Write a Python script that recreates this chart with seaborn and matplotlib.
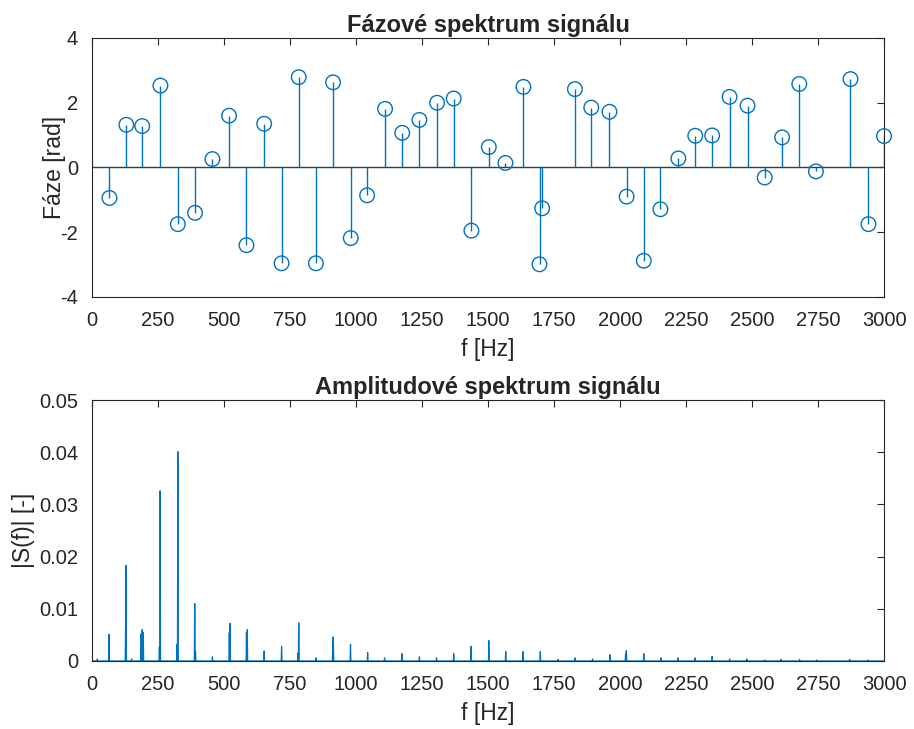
import numpy as np
import pandas as pd
import matplotlib
matplotlib.use("Agg")
import matplotlib.pyplot as plt
import seaborn as sns

# ---- Phase spectrum (stems) ----
phase_freq = [66, 130, 190, 259, 325, 390, 456, 519, 585, 652, 718, 783, 848, 913,
              980, 1042, 1110, 1175, 1240, 1307, 1370, 1437, 1503, 1566, 1634, 1695,
              1705, 1829, 1891, 1960, 2025, 2090, 2153, 2221, 2285, 2349, 2415, 2483,
              2548, 2614, 2679, 2742, 2873, 2941, 3000]
phase_val = [-0.94, 1.32, 1.28, 2.53, -1.75, -1.40, 0.26, 1.60, -2.40, 1.35, -2.96,
             2.79, -2.96, 2.63, -2.18, -0.86, 1.81, 1.07, 1.47, 2.00, 2.13, -1.95,
             0.63, 0.14, 2.49, -2.99, -1.26, 2.42, 1.85, 1.72, -0.90, -2.88, -1.29,
             0.28, 0.98, 0.99, 2.18, 1.91, -0.31, 0.93, 2.58, -0.12, 2.73, -1.75, 0.97]

# ---- Amplitude spectrum (peaks) ----
amp_freq = [20, 64, 127, 129, 150, 186, 190, 194, 255, 258, 322, 325, 389, 392, 456,
            520, 523, 585, 588, 652, 718, 780, 783, 848, 912, 914, 979, 1044, 1108,
            1174, 1240, 1305, 1370, 1436, 1503, 1567, 1633, 1698, 1765, 1830, 1896,
            1962, 2021, 2024, 2090, 2155, 2220, 2284, 2349, 2415, 2480, 2548, 2610,
            2680, 2745, 2870, 2940]
amp_val = [0.0004, 0.0051, 0.0062, 0.0183, 0.0004, 0.0052, 0.0060, 0.0055, 0.0027,
           0.0326, 0.0032, 0.0401, 0.0110, 0.0019, 0.0008, 0.0054, 0.0072, 0.0054,
           0.0060, 0.0019, 0.0028, 0.0015, 0.0073, 0.0006, 0.0046, 0.0036, 0.0032,
           0.0016, 0.0006, 0.0014, 0.0008, 0.0006, 0.0014, 0.0028, 0.0039, 0.0018,
           0.0018, 0.0018, 0.0003, 0.0006, 0.0004, 0.0012, 0.0014, 0.0020, 0.0014,
           0.0006, 0.0006, 0.0006, 0.0009, 0.0004, 0.0004, 0.0002, 0.0003, 0.0003,
           0.0002, 0.0003, 0.0002]

x_ticks = list(range(0, 3001, 250))

C = "#0072BD"
AX = "#262626"

sns.set_theme(style="white")
plt.rcParams["font.family"] = ["Liberation Sans", "DejaVu Sans"]
plt.rcParams["axes.edgecolor"] = AX
plt.rcParams["axes.linewidth"] = 0.8
plt.rcParams["axes.unicode_minus"] = False

fig = plt.figure(figsize=(9.14, 7.29), dpi=100)
ax1 = fig.add_axes([0.1007, 0.5926, 0.8665, 0.3553])
ax2 = fig.add_axes([0.1007, 0.0933, 0.8665, 0.3580])

# Top: stem plot
ax1.axhline(0, color="#3c3c3c", lw=1.0, zorder=1)
ax1.vlines(phase_freq, 0, phase_val, color=C, lw=1.0, zorder=2)
dfp = pd.DataFrame({"f": phase_freq, "phi": phase_val})
sns.scatterplot(data=dfp, x="f", y="phi", ax=ax1, s=110, marker="o",
                linewidth=1.0, zorder=3, clip_on=False)
coll = ax1.collections[-1]
coll.set_facecolor("none")
coll.set_edgecolor(C)
ax1.set_xlim(0, 3000)
ax1.set_ylim(-4, 4)
ax1.set_yticks([-4, -2, 0, 2, 4])
ax1.set_xticks(x_ticks)
ax1.set_title("Fázové spektrum signálu", fontsize=17, fontweight="bold", pad=4.5)
ax1.set_xlabel("f [Hz]", fontsize=16.5, color=AX, labelpad=6)
ax1.set_ylabel("Fáze [rad]", fontsize=16.5, color=AX, labelpad=-4)

# Bottom: amplitude spectrum line
xs, ys = [0.0], [0.0]
w = 1.5
for f, h in zip(amp_freq, amp_val):
    xs += [f - w, f, f + w]
    ys += [0.0, h, 0.0]
xs.append(3000.0)
ys.append(0.0)
dfa = pd.DataFrame({"f": xs, "a": ys})
sns.lineplot(data=dfa, x="f", y="a", ax=ax2, color=C, lw=0.9,
             estimator=None, sort=False)
ax2.set_xlim(0, 3000)
ax2.set_ylim(0, 0.05)
ax2.set_yticks([0, 0.01, 0.02, 0.03, 0.04, 0.05])
ax2.set_yticklabels(["0", "0.01", "0.02", "0.03", "0.04", "0.05"])
ax2.set_xticks(x_ticks)
ax2.set_title("Amplitudové spektrum signálu", fontsize=17, fontweight="bold", pad=4.5)
ax2.set_xlabel("f [Hz]", fontsize=16.5, color=AX, labelpad=6)
ax2.set_ylabel("|S(f)| [-]", fontsize=16.5, color=AX, labelpad=3)

for ax in (ax1, ax2):
    ax.tick_params(direction="in", top=True, right=True, length=5, width=0.8,
                   color=AX, labelcolor=AX, labelsize=14.5, pad=10)
    for s in ax.spines.values():
        s.set_visible(True)
        s.set_color(AX)

fig.savefig("out.png", dpi=100)
